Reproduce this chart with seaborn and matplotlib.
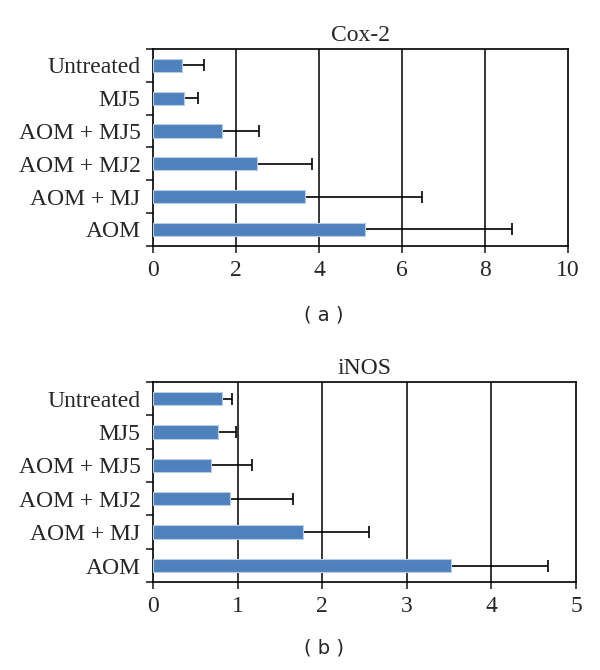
import matplotlib
matplotlib.use("Agg")
import matplotlib.pyplot as plt
import seaborn as sns
import pandas as pd
import numpy as np
from matplotlib.ticker import FixedLocator

sns.set_style("white")
plt.rcParams['font.family'] = ['Liberation Serif', 'DejaVu Serif']

categories = ["Untreated", "MJ5", "AOM + MJ5", "AOM + MJ2", "AOM + MJ", "AOM"]
cox2_mean = [0.70, 0.74, 1.65, 2.51, 3.65, 5.11]
cox2_err = [0.53, 0.35, 0.91, 1.31, 2.82, 3.54]
inos_mean = [0.82, 0.77, 0.68, 0.91, 1.77, 3.52]
inos_err = [0.11, 0.21, 0.49, 0.75, 0.78, 1.15]
panels = [("Cox-2", cox2_mean, cox2_err, [0, 2, 4, 6, 8, 10], "( a )"),
          ("iNOS", inos_mean, inos_err, [0, 1, 2, 3, 4, 5], "( b )")]

fig = plt.figure(figsize=(6.0, 6.7), dpi=100)
rects = [[0.255, 0.633, 0.692, 0.294], [0.255, 0.131, 0.705, 0.299]]
labpos = [0.522, 0.025]

for (title, mean, err, xt, lab), r, ly in zip(panels, rects, labpos):
    ax = fig.add_axes(r)
    df = pd.DataFrame({"cat": categories, "val": mean})
    sns.barplot(data=df, x="val", y="cat", order=categories, orient="h",
                color="#4F81BD", saturation=1, width=0.4,
                edgecolor="#B9CDE5", linewidth=0.8, ax=ax, zorder=3)
    ypos = np.arange(len(categories))
    ax.errorbar(mean, ypos, xerr=[np.zeros(len(err)), err], fmt="none",
                ecolor="black", elinewidth=1.2, capsize=4, capthick=1.2, zorder=2)
    ax.set_xlim(xt[0], xt[-1])
    ax.set_ylim(len(categories) - 0.5, -0.5)
    ax.set_xticks(xt)
    ax.set_xticklabels([str(v) for v in xt])
    ax.yaxis.set_minor_locator(FixedLocator(np.arange(-0.5, len(categories), 1.0)))
    ax.tick_params(axis="y", which="major", length=0, pad=9, labelsize=17)
    ax.tick_params(axis="y", which="minor", length=5, width=1.2, direction="out", left=True)
    ax.tick_params(axis="x", which="major", length=5, width=1.2, direction="out",
                   bottom=True, pad=5, labelsize=17)
    ax.set_xlabel("")
    ax.set_ylabel("")
    ax.grid(False)
    for v in xt[1:-1]:
        ax.axvline(v, color="black", linewidth=1.1, zorder=1)
    for s in ax.spines.values():
        s.set_visible(True)
        s.set_color("black")
        s.set_linewidth(1.2)
    ax.set_title(title, fontsize=17, pad=6)
    fig.text(0.54, ly, lab, family="DejaVu Sans", fontsize=14, ha="center")

fig.savefig("out.png", dpi=100)
